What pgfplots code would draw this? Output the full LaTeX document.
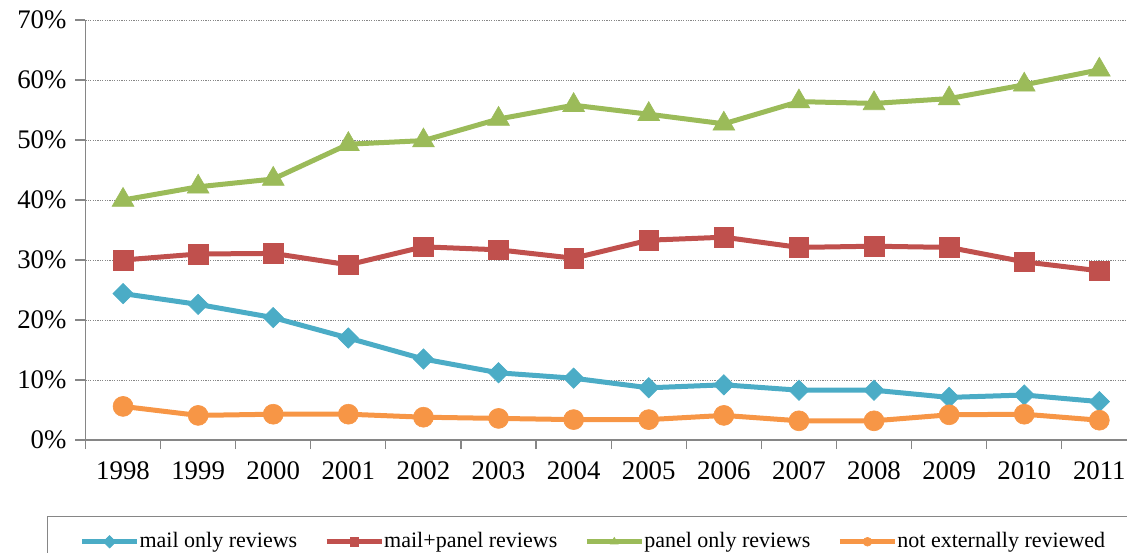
\documentclass[border=0pt]{standalone}
\usepackage{fontspec}
\setmainfont{Liberation Serif}
\usepackage{pgfplots}
\pgfplotsset{compat=1.18}
\definecolor{cblue}{HTML}{4BACC6}
\definecolor{cred}{HTML}{C0504D}
\definecolor{cgreen}{HTML}{9BBB59}
\definecolor{corange}{HTML}{F79646}
\definecolor{axgray}{RGB}{134,134,134}
\begin{document}
\begin{tikzpicture}
\begin{axis}[
  scale only axis,
  width=520.8pt, height=210pt,
  xmin=-0.5, xmax=13.37,
  ymin=0, ymax=70,
  axis x line*=bottom, axis y line*=left,
  axis line style={draw=axgray, line width=0.6pt},
  xtick={0,...,13},
  xticklabels={1998,1999,2000,2001,2002,2003,2004,2005,2006,2007,2008,2009,2010,2011},
  minor xtick={-0.5,0.5,...,12.5},
  major x tick style={draw=none},
  minor x tick style={draw=axgray, line width=0.6pt},
  minor tick length=4.5pt,
  ytick={0,10,...,70},
  y tick style={draw=axgray, line width=0.6pt},
  major tick length=5pt,
  tick align=outside,
  yticklabel={\pgfmathprintnumber{\tick}\%},
  /pgf/number format/assume math mode=true,
  ticklabel style={font=\fontsize{13.4}{15}\selectfont},
  xticklabel style={yshift=-2.5pt},
  yticklabel style={xshift=-1pt},
  ymajorgrids,
  major grid style={draw=axgray, line width=0.5pt, dash pattern=on 0.6pt off 0.6pt},
  legend columns=4,
  legend style={
    at={(axis description cs:-0.03696,-0.181)}, anchor=north west,
    draw=axgray, line width=0.6pt,
    inner xsep=16pt, inner ysep=8pt,
    font=\fontsize{11}{12}\selectfont,
    nodes={inner sep=0pt},
    /tikz/every odd column/.append style={column sep=0pt},
    /tikz/every even column/.append style={column sep=13.5pt},
  },
  legend cell align=left,
  legend image code/.code={\draw[mark repeat=2,mark phase=2,#1,mark size=2.2pt] plot coordinates {(0pt,0pt) (13.75pt,0pt) (27.5pt,0pt)};},
  every axis plot/.append style={line width=2.5pt},
]
\addplot[cblue, mark=square*, mark size=3.6pt, mark options={rotate=45, line width=0.3pt, fill=cblue}] coordinates {
(0,24.4) (1,22.6) (2,20.4) (3,17.0) (4,13.5) (5,11.2) (6,10.3) (7,8.7) (8,9.2) (9,8.3) (10,8.3) (11,7.1) (12,7.5) (13,6.4)};
\addlegendentry{mail only reviews}
\addplot[cred, mark=square*, mark size=4.9pt, mark options={line width=0.3pt, fill=cred}] coordinates {
(0,30.0) (1,31.0) (2,31.1) (3,29.2) (4,32.2) (5,31.7) (6,30.3) (7,33.3) (8,33.8) (9,32.1) (10,32.3) (11,32.1) (12,29.7) (13,28.2)};
\addlegendentry{mail+panel reviews}
\addplot[cgreen, mark=triangle*, mark size=6.3pt, mark options={line width=0.3pt, fill=cgreen}] coordinates {
(0,40.0) (1,42.2) (2,43.5) (3,49.3) (4,49.9) (5,53.5) (6,55.8) (7,54.3) (8,52.7) (9,56.4) (10,56.1) (11,56.9) (12,59.2) (13,61.7)};
\addlegendentry{panel only reviews}
\addplot[corange, mark=*, mark size=5pt, mark options={line width=0.3pt, fill=corange}] coordinates {
(0,5.6) (1,4.1) (2,4.3) (3,4.3) (4,3.8) (5,3.6) (6,3.4) (7,3.4) (8,4.1) (9,3.2) (10,3.2) (11,4.2) (12,4.3) (13,3.3)};
\addlegendentry{not externally reviewed}
\end{axis}
\pgfresetboundingbox
\useasboundingbox (-42.75pt,-56pt) rectangle (520.75pt,220pt);
\end{tikzpicture}
\end{document}
